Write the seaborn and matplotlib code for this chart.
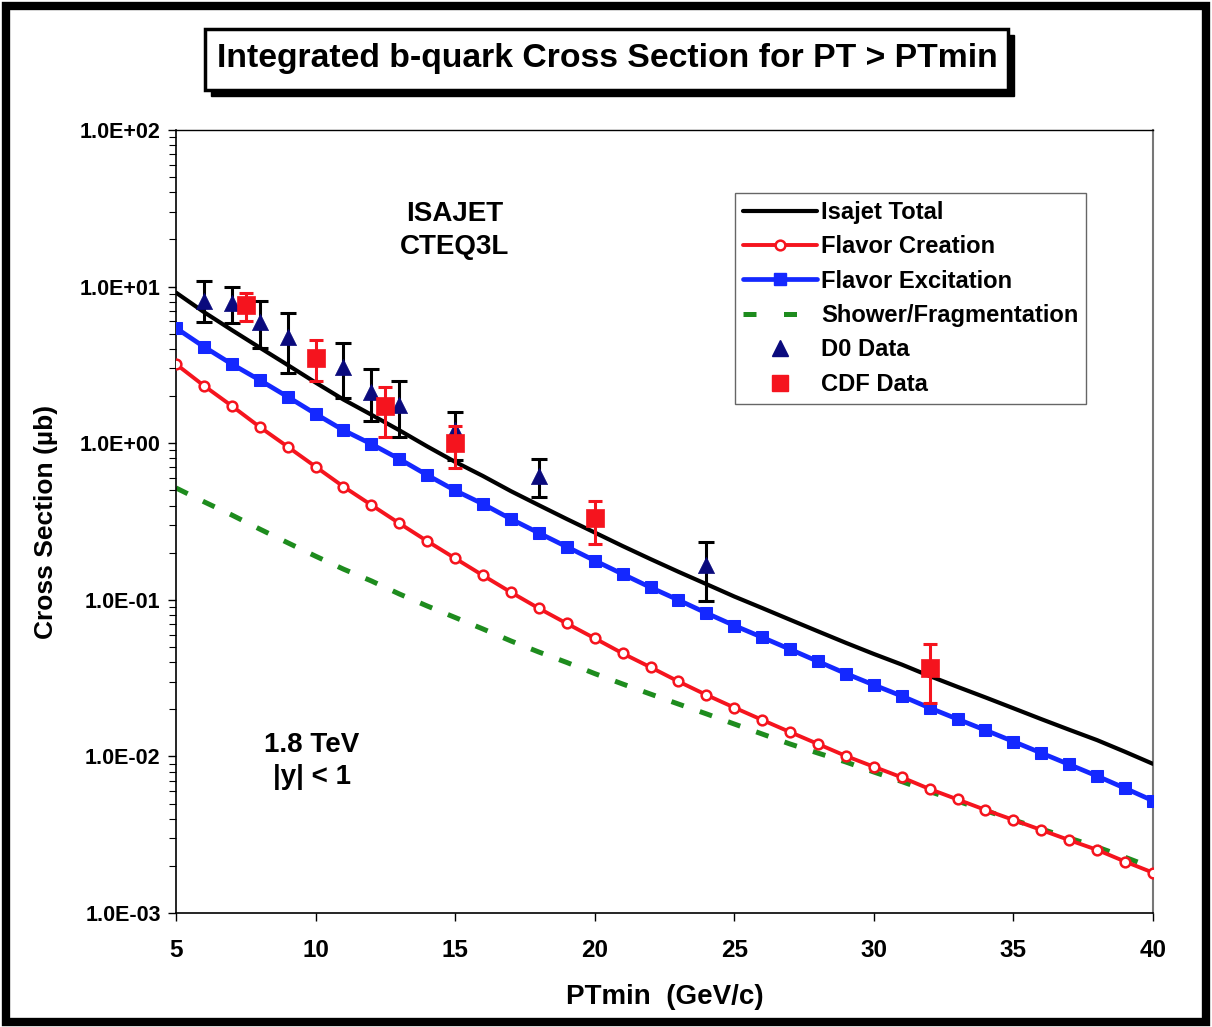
import matplotlib
matplotlib.use("Agg")
import matplotlib.pyplot as plt
from matplotlib.lines import Line2D
from matplotlib.patches import Rectangle
from matplotlib.ticker import FixedLocator, FixedFormatter, LogLocator, NullFormatter
import seaborn as sns

# ---------------- data ----------------
pt_min = list(range(5, 41))

isajet_total = [9.16, 6.88, 5.28, 4.08, 3.16, 2.44, 1.90, 1.52, 1.21, 0.954,
                0.760, 0.617, 0.494, 0.402, 0.328, 0.269, 0.2205, 0.182, 0.151, 0.126,
                0.105, 0.0886, 0.0746, 0.0629, 0.0531, 0.0451, 0.0386, 0.0326, 0.0278, 0.0238,
                0.0203, 0.0173, 0.0148, 0.0127, 0.0107, 0.00896]

flavor_creation = [3.20, 2.33, 1.73, 1.27, 0.950, 0.708, 0.528, 0.403, 0.308, 0.237,
                   0.184, 0.143, 0.1117, 0.0882, 0.0706, 0.0568, 0.0455, 0.0371, 0.0301, 0.0247,
                   0.0205, 0.0171, 0.0143, 0.0120, 0.01006, 0.00859, 0.00735, 0.00619, 0.00531, 0.00455,
                   0.00393, 0.00339, 0.00292, 0.00253, 0.00213, 0.00181]

flavor_excitation = [5.44, 4.13, 3.20, 2.53, 1.98, 1.54, 1.21, 0.988, 0.793, 0.626,
                     0.499, 0.409, 0.328, 0.267, 0.218, 0.178, 0.146, 0.120, 0.0997, 0.0823,
                     0.0685, 0.0576, 0.0483, 0.0404, 0.0338, 0.0286, 0.0243, 0.0204, 0.0173, 0.0147,
                     0.01245, 0.01051, 0.00888, 0.00749, 0.00626, 0.00521]

shower_frag = [0.518, 0.423, 0.348, 0.283, 0.2315, 0.190, 0.157, 0.132, 0.109, 0.0913,
               0.0771, 0.0651, 0.0546, 0.0464, 0.0398, 0.0338, 0.0290, 0.0250, 0.0216, 0.0187,
               0.0161, 0.0139, 0.0120, 0.0105, 0.00921, 0.00795, 0.00691, 0.00597, 0.00519, 0.00451,
               0.00393, 0.00344, 0.00301, 0.00264, 0.00227, 0.00194]

d0_pt = [6, 7, 8, 9, 11, 12, 13, 15, 18, 24]
d0_xs = [8.13, 7.82, 5.97, 4.79, 3.08, 2.13, 1.75, 1.21, 0.617, 0.167]
d0_hi = [10.9, 9.90, 8.09, 6.81, 4.38, 2.96, 2.50, 1.58, 0.789, 0.235]
d0_lo = [5.97, 5.88, 4.04, 2.80, 1.93, 1.39, 1.09, 0.781, 0.451, 0.0987]

cdf_pt = [7.5, 10, 12.5, 15, 20, 32]
cdf_xs = [7.63, 3.48, 1.73, 0.999, 0.331, 0.0365]
cdf_hi = [9.06, 4.56, 2.30, 1.29, 0.429, 0.052]
cdf_lo = [6.03, 2.51, 1.10, 0.691, 0.227, 0.0218]

x_ticks = [5, 10, 15, 20, 25, 30, 35, 40]
y_ticks = [1e-3, 1e-2, 1e-1, 1e0, 1e1, 1e2]
y_tick_labels = ["1.0E-03", "1.0E-02", "1.0E-01", "1.0E+00", "1.0E+01", "1.0E+02"]

legend_labels = ["Isajet Total", "Flavor Creation", "Flavor Excitation",
                 "Shower/Fragmentation", "D0 Data", "CDF Data"]

# ---------------- style ----------------
sns.set_style("ticks")
plt.rcParams['font.family'] = ['Liberation Sans', 'DejaVu Sans']
plt.rcParams['font.weight'] = 'bold'
plt.rcParams['text.color'] = 'black'
plt.rcParams['axes.labelcolor'] = 'black'
plt.rcParams['xtick.color'] = 'black'
plt.rcParams['ytick.color'] = 'black'

C_BLACK = "#000000"
C_RED = "#F5141E"
C_BLUE = "#1428FF"
C_GREEN = "#1E8C1E"
C_NAVY = "#0A0A7D"
C_CDF = "#F5141E"
GREEN_DASH = (2.6, 3.4)

fig = plt.figure(figsize=(12.12, 10.27), dpi=100)
ax = fig.add_axes([0.1452, 0.1110, 0.8061, 0.7624])

# theory curves
sns.lineplot(x=pt_min, y=shower_frag, ax=ax, color=C_GREEN, lw=3.6, zorder=2)
ax.lines[-1].set_dashes(GREEN_DASH)
sns.lineplot(x=pt_min, y=flavor_creation, ax=ax, color=C_RED, lw=2.8, marker='o',
             markersize=7, markerfacecolor='white', markeredgecolor=C_RED,
             markeredgewidth=1.8, zorder=3)
sns.lineplot(x=pt_min, y=flavor_excitation, ax=ax, color=C_BLUE, lw=3.4, marker='s',
             markersize=8.2, markerfacecolor=C_BLUE, markeredgecolor=C_BLUE, zorder=3)
sns.lineplot(x=pt_min, y=isajet_total, ax=ax, color=C_BLACK, lw=3.0, zorder=4)

# data with error bars
d0_err = [[v - l for v, l in zip(d0_xs, d0_lo)], [h - v for v, h in zip(d0_xs, d0_hi)]]
cdf_err = [[v - l for v, l in zip(cdf_xs, cdf_lo)], [h - v for v, h in zip(cdf_xs, cdf_hi)]]
ax.errorbar(d0_pt, d0_xs, yerr=d0_err, fmt='none', ecolor='black', elinewidth=2.2,
            capsize=5.8, capthick=2.2, zorder=5)
sns.scatterplot(x=d0_pt, y=d0_xs, ax=ax, marker='^', s=135, color=C_NAVY,
                edgecolor=C_NAVY, linewidth=0.5, zorder=6)
ax.errorbar(cdf_pt, cdf_xs, yerr=cdf_err, fmt='none', ecolor=C_CDF, elinewidth=2.2,
            capsize=5.0, capthick=2.2, zorder=7)
sns.scatterplot(x=cdf_pt, y=cdf_xs, ax=ax, marker='s', s=150, color=C_CDF,
                edgecolor=C_CDF, linewidth=0.5, zorder=8)

# axes
ax.set_yscale('log')
ax.set_xlim(5, 40)
ax.set_ylim(1e-3, 1e2)
ax.xaxis.set_major_locator(FixedLocator(x_ticks))
ax.set_xticklabels([str(t) for t in x_ticks], fontsize=17.5, fontweight='bold')
ax.yaxis.set_major_locator(FixedLocator(y_ticks))
ax.yaxis.set_major_formatter(FixedFormatter(y_tick_labels))
ax.yaxis.set_minor_locator(LogLocator(base=10, subs=range(2, 10), numticks=20))
ax.yaxis.set_minor_formatter(NullFormatter())
for lab in ax.get_yticklabels():
    lab.set_fontsize(15.5)
    lab.set_fontweight('bold')
ax.tick_params(axis='x', which='major', direction='out', length=6, width=1.0,
               pad=13, colors='black')
ax.tick_params(axis='y', which='major', direction='out', length=6, width=1.0,
               pad=5, colors='black')
ax.tick_params(axis='y', which='minor', direction='out', length=5, width=0.8,
               colors='black')

for side in ['left', 'bottom', 'top']:
    ax.spines[side].set_color('black')
    ax.spines[side].set_linewidth(1.2)
ax.spines['right'].set_color('#777777')
ax.spines['right'].set_linewidth(1.5)
ax.spines['top'].set_linewidth(1.0)

ax.set_xlabel("PTmin  (GeV/c)", fontsize=20, fontweight='bold', va='top', color='black')
ax.xaxis.set_label_coords(0.5, -0.091)
ax.set_ylabel("Cross Section (\u00b5b)", fontsize=19, fontweight='bold', color='black')
ax.yaxis.set_label_coords(-0.121, 0.5)

# annotations
ax.text(0.2856, 0.8723, "ISAJET\nCTEQ3L", transform=ax.transAxes, ha='center',
        va='center', fontsize=20, fontweight='bold', linespacing=1.35, color='black')
ax.text(0.139, 0.194, "1.8 TeV\n|y| < 1", transform=ax.transAxes, ha='center',
        va='center', fontsize=20, fontweight='bold', linespacing=1.3, color='black')

# legend
handles = [
    Line2D([], [], color=C_BLACK, lw=3.0),
    Line2D([], [], color=C_RED, lw=2.8, marker='o', markersize=7,
           markerfacecolor='white', markeredgecolor=C_RED, markeredgewidth=1.8),
    Line2D([], [], color=C_BLUE, lw=3.4, marker='s', markersize=8.2,
           markerfacecolor=C_BLUE, markeredgecolor=C_BLUE),
    Line2D([], [], color=C_GREEN, lw=3.6, dashes=(2.6, 5.5)),
    Line2D([], [], color=C_NAVY, marker='^', markersize=11, linestyle='none'),
    Line2D([], [], color=C_CDF, marker='s', markersize=12, linestyle='none'),
]
leg = ax.legend(handles, legend_labels, loc='upper left', bbox_to_anchor=(0.572, 0.9195),
                borderaxespad=0, frameon=True, fancybox=False, framealpha=1,
                edgecolor='#666666', prop={'weight': 'bold', 'size': 17.1},
                handlelength=3.15, handletextpad=0.15, labelspacing=0.48,
                borderpad=0.33, numpoints=1)
leg.get_frame().set_linewidth(1.0)
leg.set_zorder(10)
for t in leg.get_texts():
    t.set_color('black')

# title box with shadow
fig.patches.append(Rectangle((211 / 1212, 1 - 96 / 1027), 803 / 1212, 61 / 1027,
                             transform=fig.transFigure, facecolor='black',
                             edgecolor='black', zorder=1))
fig.patches.append(Rectangle((205 / 1212, 1 - 90 / 1027), 803 / 1212, 61 / 1027,
                             transform=fig.transFigure, facecolor='white',
                             edgecolor='black', lw=2.5, zorder=2))
fig.text(607 / 1212, 1 - 59 / 1027, "Integrated b-quark Cross Section for PT > PTmin",
         ha='center', va='center', fontsize=24.3, fontweight='bold', zorder=3,
         color='black')

# outer frame
fig.patches.append(Rectangle((0.005, 0.005), 0.990, 0.989, transform=fig.transFigure,
                             fill=False, edgecolor='black', lw=6, zorder=5))

fig.savefig("out.png", dpi=100)
